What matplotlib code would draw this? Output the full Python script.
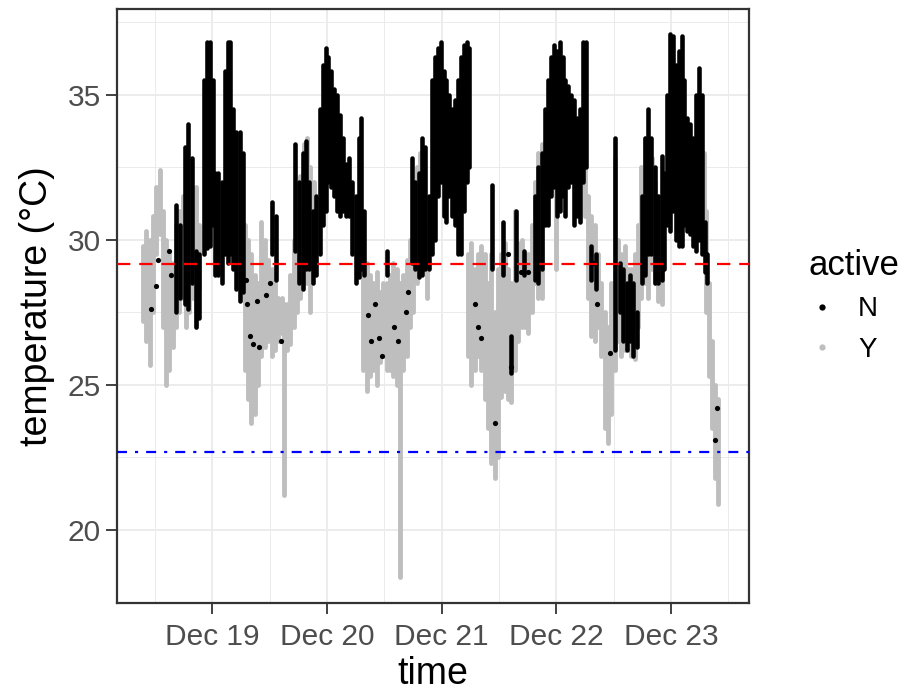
import numpy as np
import matplotlib
matplotlib.use("Agg")
import matplotlib.pyplot as plt
import matplotlib.dates as mdates
from matplotlib.lines import Line2D

plt.rcParams['font.family'] = ['Liberation Sans', 'DejaVu Sans']

# hours after Dec 18 00:00, temperature range of each streak of readings
y_hour = [9.5, 10.2, 10.9, 11.6, 12.3, 13.0, 13.6, 14.3, 15.0, 15.7, 16.4, 17.1, 17.8, 18.5, 19.2, 19.9, 20.6, 21.3,
          30.8, 31.5, 32.2, 32.9, 33.6, 34.3, 35.0, 35.7, 36.4, 37.1, 37.8, 38.5, 39.0, 39.6, 40.3, 41.0, 41.7, 42.4,
          43.1, 43.8, 44.5, 45.2,
          55.6, 56.3, 57.0, 57.7, 58.4, 59.1, 59.8, 60.5, 61.2, 61.9, 62.6, 63.3, 64.0, 64.7, 65.4, 66.1, 66.8, 67.5,
          68.2, 68.9,
          77.5, 78.2, 78.9, 79.6, 80.3, 81.0, 81.7, 82.4, 83.1, 83.8, 84.5, 85.2, 85.9, 86.6, 87.3, 88.0, 88.7, 89.4,
          90.1, 90.8, 91.5, 92.2, 92.9,
          96.0, 101.9, 102.6, 103.3, 104.0, 104.7, 105.4, 106.1, 106.8, 107.5, 108.2, 108.9, 109.6, 110.3, 111.0,
          111.7, 112.4, 113.1, 113.8, 114.5, 115.2, 115.9, 116.6, 117.3,
          118.0, 126.8, 127.4, 128.0, 128.6, 129.2, 129.8]
y_lo = [27.2, 26.5, 25.7, 27.5, 29.5, 30.2, 27.0, 25.0, 25.5, 26.3, 27.0, 27.5, 28.0, 27.0, 27.5, 28.0, 27.0, 28.3,
        25.5, 24.5, 23.7, 24.0, 25.0, 26.0, 26.3, 26.5, 26.0, 26.2, 26.5, 26.8, 21.2, 26.2, 26.4, 27.0, 27.5, 28.0,
        28.5, 28.5, 27.5, 29.0,
        25.5, 24.8, 25.3, 25.5, 25.0, 25.8, 26.0, 25.5, 25.5, 25.3, 25.0, 18.4, 25.5, 26.0, 27.0, 27.5, 28.5, 29.0,
        29.0, 28.0,
        26.0, 25.0, 25.5, 26.0, 25.5, 24.5, 23.5, 22.3, 21.8, 22.5, 24.6, 24.8, 24.5, 24.4, 25.5, 26.5, 27.0, 27.0,
        26.8, 27.5, 28.5, 28.0, 28.0,
        29.0, 30.8, 28.0, 26.7, 26.5, 27.0, 26.0, 23.5, 23.0, 24.0, 25.5, 26.5, 26.0, 26.2, 26.5,
        26.0, 25.9, 27.0, 28.0, 28.5, 28.0, 29.0, 28.5, 27.9,
        27.8, 30.0, 27.5, 25.3, 23.5, 21.8, 20.9]
y_hi = [29.8, 30.3, 30.0, 30.8, 31.8, 32.4, 31.0, 30.0, 29.5, 29.2, 30.5, 31.0, 31.5, 32.2, 31.8, 31.0, 31.8, 30.5,
        30.5, 30.0, 29.5, 28.8, 28.5, 30.6, 30.0, 29.3, 29.0, 28.5, 28.0, 28.0, 27.8, 27.8, 28.8, 30.0, 31.0, 32.2,
        33.3, 33.5, 32.5, 32.0,
        29.0, 29.2, 28.8, 28.5, 28.9, 28.2, 28.5, 28.5, 28.8, 29.2, 29.0, 28.5, 28.8, 29.3, 30.0, 31.0, 32.5, 33.0,
        32.5, 30.5,
        29.5, 29.9, 29.0, 29.5, 29.8, 29.5, 28.5, 29.5, 27.5, 29.0, 29.5, 29.9, 29.0, 28.5, 31.0, 29.9, 30.0, 29.5,
        29.5, 30.5, 32.0, 33.0, 33.3,
        32.5, 33.5, 31.5, 30.8, 30.5, 29.5, 28.5, 27.5, 27.0, 28.5, 32.8, 30.0, 29.5, 29.8, 29.0,
        29.0, 29.5, 30.5, 32.5, 33.5, 32.5, 32.8, 32.0, 31.5,
        29.0, 33.0, 31.0, 28.5, 26.5, 25.0, 24.5]

n_hour = [16.5, 17.2, 18.3, 19.0, 19.7, 20.6, 21.3, 22.3, 22.9, 23.5, 24.1, 24.6, 25.3, 26.0, 26.6, 27.2, 27.8, 28.4,
          29.0, 29.7, 30.4,
          36.6, 37.3, 41.3, 42.2, 42.9, 43.6, 44.3, 45.0, 45.8, 46.5, 47.1, 47.7, 48.3, 48.9, 49.5, 50.1, 50.7, 51.3,
          52.0,
          52.6, 53.3, 54.0, 54.6, 55.2, 55.8, 60.5, 65.8, 66.5, 67.2, 67.9, 68.6, 69.3, 70.0, 70.6, 71.2, 71.8, 72.4,
          73.0, 73.6, 74.2,
          74.8, 75.4, 76.0, 76.6, 77.2, 77.8, 82.6, 84.8, 86.6, 87.5, 89.2, 91.5, 92.2, 92.9, 93.6, 94.3, 94.9, 95.5,
          96.1, 96.7, 97.3, 97.9, 98.5, 99.1, 99.7, 100.3, 100.9, 101.5, 102.1, 103.3, 104.2, 108.2, 109.3, 110.0,
          110.7, 111.4, 112.1, 112.8, 113.9, 114.5, 115.1, 115.7, 116.6, 117.3,
          118.0, 118.6, 119.2, 119.8, 120.4, 121.0, 121.6, 122.2, 122.8, 123.4, 124.0, 124.6, 125.2, 125.8, 126.4,
          127.0, 127.6]
n_lo = [27.5, 28.0, 27.8, 27.6, 28.5, 27.0, 27.3, 29.5, 29.7, 29.8, 30.5, 28.8, 28.8, 28.5, 29.5, 29.2, 29.5, 29.0,
        28.3, 27.9, 28.2,
        29.5, 28.6, 29.6, 28.5, 28.3, 29.0, 29.0, 28.5, 28.8, 29.5, 30.5, 31.0, 32.0, 31.8, 31.5, 31.0, 30.8, 31.0,
        30.8,
        30.8, 29.5, 28.5, 28.7, 29.0, 28.8, 28.8, 29.2, 29.0, 28.7, 28.8, 29.0, 29.0, 29.5, 30.0, 31.5, 32.0, 30.8,
        30.6, 31.5, 30.8,
        30.5, 29.5, 29.5, 31.0, 32.0, 32.5, 29.0, 28.8, 25.4, 28.6, 28.8, 28.6, 28.5, 29.0, 30.5, 30.5, 31.5, 31.8,
        30.8, 31.0, 31.5, 30.8, 31.8, 32.0, 30.5, 30.8, 30.6, 32.0, 32.5, 28.6, 28.3, 26.2, 27.5, 26.5,
        26.2, 26.5, 26.0, 26.3, 28.5, 28.8, 29.5, 29.5, 28.5, 28.5,
        28.6, 29.0, 30.5, 30.3, 31.0, 30.0, 29.8, 29.8, 30.5, 30.3, 30.2, 29.8, 29.6, 30.0, 29.5,
        28.9, 28.5]
n_hi = [31.2, 30.5, 33.2, 34.0, 32.8, 29.6, 29.5, 35.5, 36.8, 36.8, 35.5, 32.3, 32.3, 32.0, 35.8, 36.8, 36.8, 34.5,
        33.7, 33.7, 33.0,
        31.3, 30.8, 33.3, 32.0, 33.0, 33.4, 32.0, 31.0, 31.5, 34.5, 36.0, 36.6, 36.3, 35.8, 35.2, 35.0, 34.3, 33.5,
        32.6,
        32.8, 32.0, 31.5, 33.5, 34.2, 31.0, 29.6, 32.8, 32.0, 32.3, 33.5, 33.2, 31.5, 35.5, 36.3, 36.6, 36.8, 35.8,
        35.5, 35.0, 34.5,
        34.8, 35.5, 36.3, 36.7, 36.8, 36.6, 31.9, 30.6, 26.7, 31.0, 29.6, 31.5, 32.5, 33.0, 34.5, 35.5, 36.3, 36.7,
        36.5, 36.8, 36.3, 35.5, 35.3, 35.0, 34.8, 34.2, 34.5, 36.8, 36.8, 29.8, 29.5, 33.5, 29.2, 29.0,
        28.5, 28.8, 28.5, 27.5, 31.5, 33.5, 34.5, 33.5, 32.5, 31.5,
        32.9, 32.3, 35.0, 37.1, 37.0, 36.0, 36.5, 37.0, 35.5, 34.2, 34.0, 33.5, 35.0, 35.9, 35.0,
        30.6, 29.5]

# single black readings inside the grey clouds
n_dot_hour = [11.2, 12.3, 12.6, 14.9, 15.3, 31.0, 31.3, 31.9, 32.5, 33.3, 33.8, 35.2, 36.0, 38.4,
              56.5, 57.2, 58.0, 58.8, 59.5, 62.0, 62.8, 64.5, 65.0,
              78.9, 79.5, 80.2, 83.1, 85.9, 86.5, 88.5, 90.0,
              103.6, 104.5, 107.2, 129.1, 129.6]
n_dot_temp = [27.6, 28.4, 29.3, 29.6, 28.8, 28.6, 27.8, 26.7, 26.4, 27.9, 26.3, 28.1, 28.5, 26.5,
              27.4, 26.5, 27.8, 26.6, 26.0, 27.0, 26.5, 27.5, 28.2,
              27.8, 27.0, 26.6, 23.7, 29.5, 25.6, 28.9, 28.9,
              29.2, 27.8, 26.1, 23.1, 24.2]

upper_line = 29.15
lower_line = 22.68

start = np.datetime64('2019-12-18T00:00')


def to_num(hours):
    mins = np.round(np.asarray(hours) * 60).astype(int).astype('timedelta64[m]')
    return mdates.date2num(start + mins)


fig = plt.figure(figsize=(9.09, 6.97), dpi=100)
ax = fig.add_axes([0.1287, 0.1349, 0.6953, 0.8528])

grey = '#BEBEBE'
ax.vlines(to_num(y_hour), y_lo, y_hi, colors=grey, linewidth=3.5, capstyle='round', zorder=2)
ax.vlines(to_num(n_hour), n_lo, n_hi, colors='black', linewidth=3.3, capstyle='round', zorder=3)
ax.scatter(to_num(n_dot_hour), n_dot_temp, s=14, color='black', linewidths=0, zorder=3)

ax.axhline(upper_line, color='red', linewidth=1.6, dashes=(6, 4), zorder=4)
ax.axhline(lower_line, color='blue', linewidth=1.6, dashes=(4.5, 3.6, 1.4, 3.6), zorder=4)

ax.set_xlim(to_num(4.06), to_num(136.3))
ax.set_ylim(17.49, 37.96)

ax.xaxis.set_major_locator(mdates.DayLocator())
ax.xaxis.set_minor_locator(mdates.HourLocator(byhour=12))
ax.xaxis.set_major_formatter(mdates.DateFormatter('%b %d'))
ax.set_yticks([20, 25, 30, 35])
ax.set_yticks([17.5, 22.5, 27.5, 32.5, 37.5], minor=True)

ax.grid(which='major', color='#EBEBEB', linewidth=1.3, zorder=0)
ax.grid(which='minor', color='#EBEBEB', linewidth=0.7, zorder=0)
ax.set_axisbelow(True)

for s in ax.spines.values():
    s.set_color('#333333')
    s.set_linewidth(1.6)

ax.tick_params(which='major', length=7.7, width=1.3, color='#333333', labelcolor='#4D4D4D',
               labelsize=21.5, pad=4)
ax.tick_params(axis='x', which='major', pad=7)
ax.tick_params(which='minor', length=0)

ax.set_xlabel('time', fontsize=27, labelpad=3)
ax.set_ylabel('temperature (°C)', fontsize=27, labelpad=9)

handles = [Line2D([], [], linestyle='', marker='o', markersize=4.5, color='black', markeredgewidth=0),
           Line2D([], [], linestyle='', marker='o', markersize=4.5, color=grey, markeredgewidth=0)]
leg = ax.legend(handles, ['N', 'Y'], title='active', loc='center left', bbox_to_anchor=(1.054, 0.5),
                frameon=False, fontsize=20, title_fontsize=25, labelspacing=0.53, handletextpad=0.8,
                handlelength=1.0)
leg._legend_box.align = 'left'

fig.savefig('out.png', dpi=100)
